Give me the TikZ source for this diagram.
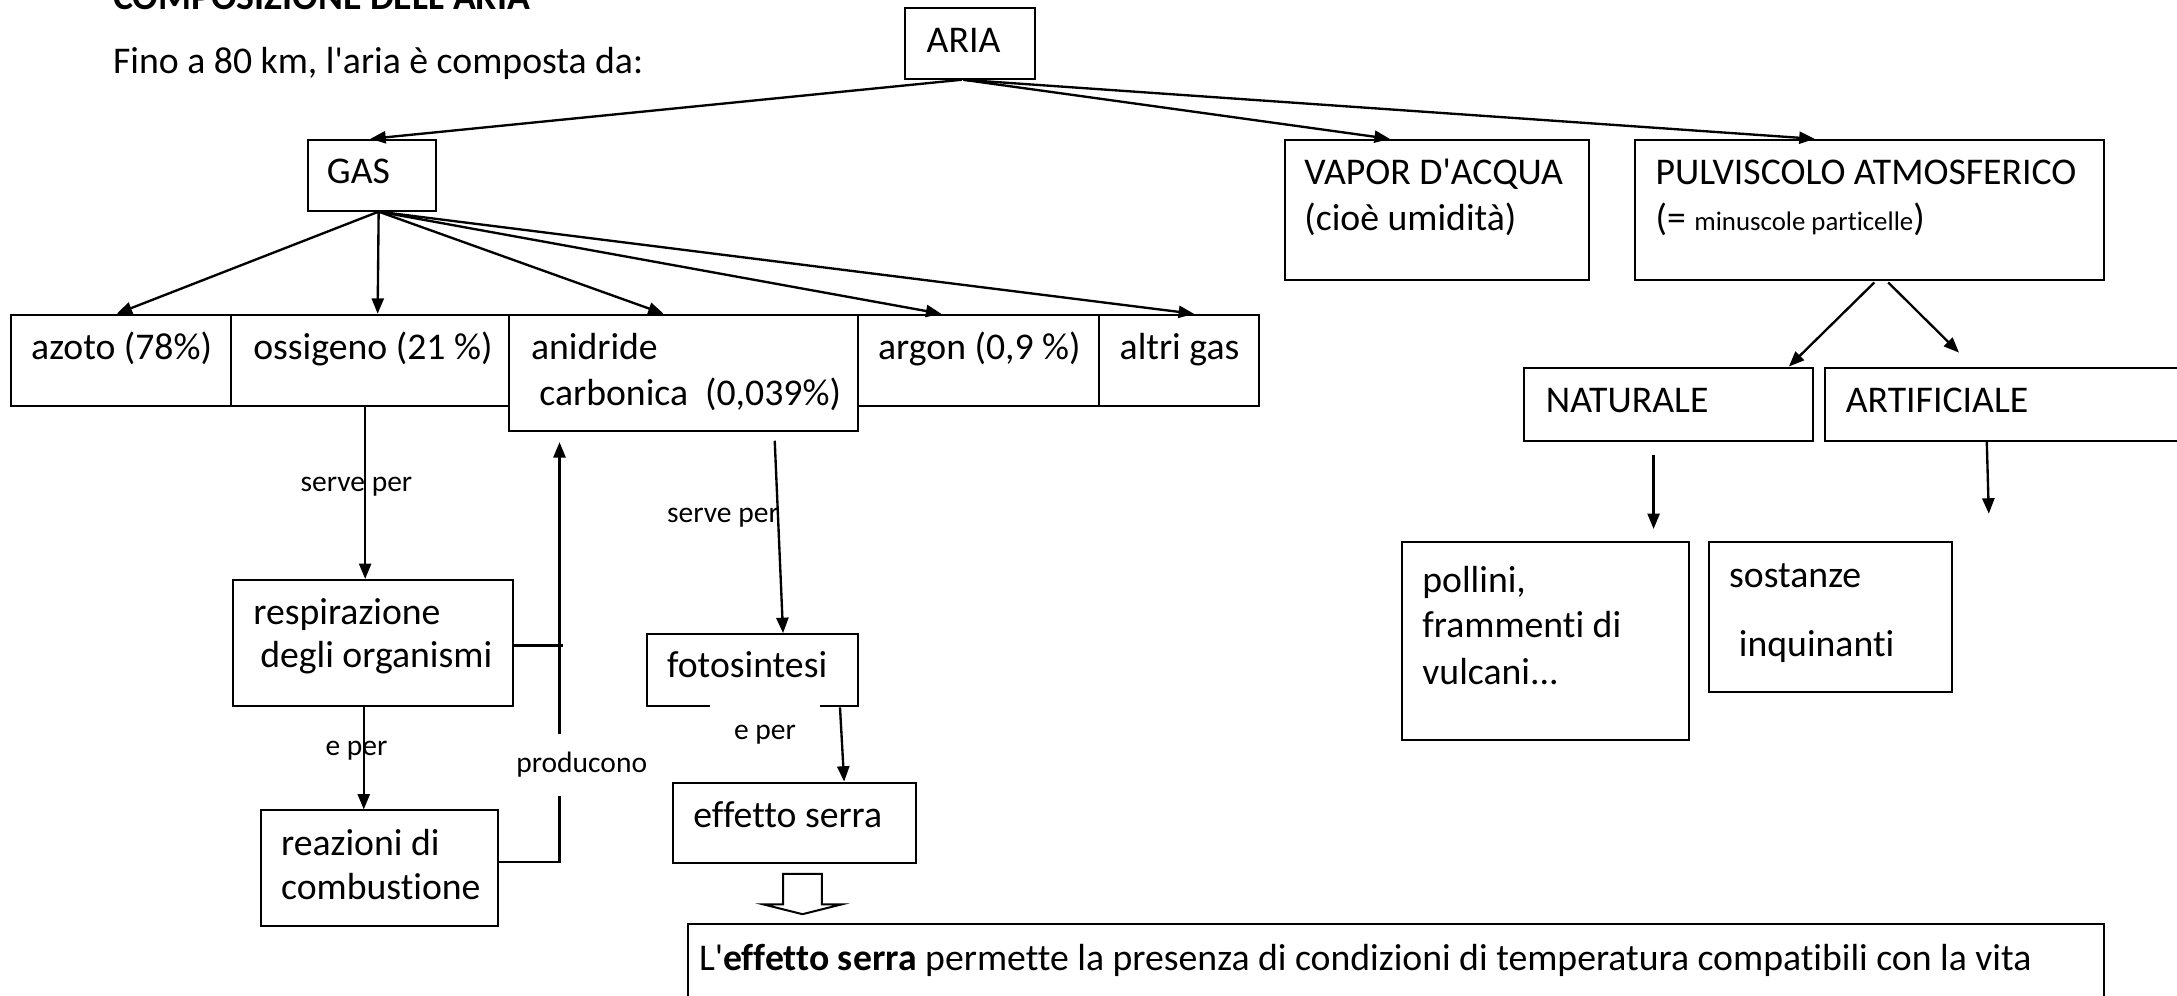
\documentclass[tikz,border=0pt]{standalone}
\usepackage{fontspec}
\setmainfont{Carlito}[Ligatures={NoCommon}]
\usetikzlibrary{arrows.meta,calc}
\newdimen\pu \pu=0.414pt
\newcommand\sq{\textquotesingle}
\newcommand\mybox[5]{\node[bx,minimum width={(#4-#2)*\pu},minimum height={(#5-#3)*\pu}] (#1) at (#2,#3) {};}
\begin{document}
\begin{tikzpicture}[x=\pu,y=-\pu,
  bx/.style={draw,line width=0.6pt,inner sep=0pt,anchor=north west},
  tx/.style={anchor=base west,inner sep=0pt,font=\fontsize{11.25}{13}\selectfont},
  lb/.style={anchor=base west,inner sep=0pt,font=\fontsize{8.8}{10}\selectfont},
  wlb/.style={fill=white,inner sep=0pt,font=\fontsize{8.8}{10}\selectfont},
  arr/.style={line width=0.7pt,-{Triangle[length=4.6pt,width=3.6pt]}},
  ln/.style={line width=0.7pt}]
\clip (0,0) rectangle (1568,717);
% boxes
\mybox{aria}{651}{5}{745}{56}
\mybox{gas}{221}{100}{313}{151}
\mybox{vapor}{925}{100}{1144}{201}
\mybox{pulv}{1177}{100}{1515}{201}
\mybox{azoto}{7}{226}{166}{292}
\mybox{ossigeno}{166}{226}{366}{292}
\mybox{anidride}{366}{226}{617}{310}
\mybox{argon}{617}{226}{791}{292}
\mybox{altri}{791}{226}{906}{292}
\mybox{resp}{167}{417}{369}{508}
\mybox{reaz}{187}{583}{358}{666}
\mybox{foto}{465}{456}{617}{508}
\mybox{effetto}{484}{563}{659}{621}
\mybox{bottom}{495}{665}{1515}{740}
\mybox{naturale}{1097}{264}{1305}{317}
\mybox{artificiale}{1314}{264}{1590}{317}
\mybox{pollini}{1009}{390}{1216}{532}
\mybox{sostanze}{1230}{390}{1405}{498}
% texts
\node[tx,font=\fontsize{11.25}{13}\selectfont\bfseries] (title) at (81,7) {COMPOSIZIONE DELL\sq ARIA};
\node[tx] (fino) at (81,53) {Fino a 80 km, l\sq aria è composta da:};
\node[tx] (aria-t) at (667,38) {ARIA};
\node[tx] (gas-t) at (235,132) {GAS};
\node[tx] (vapor-t1) at (939,133) {VAPOR D\sq ACQUA};
\node[tx] (vapor-t2) at (939,166) {(cioè umidità)};
\node[tx] (pulv-t1) at (1192,133) {PULVISCOLO ATMOSFERICO};
\node[tx] (pulv-t2) at (1192,166) {(= {\fontsize{8}{9.6}\selectfont minuscole particelle})};
\node[tx] (azoto-t) at (22,259) {azoto (78\%)};
\node[tx] (ossigeno-t) at (182,259) {ossigeno (21 \%)};
\node[tx] (anidride-t1) at (382,259) {anidride};
\node[tx] (anidride-t2) at (388,292) {carbonica\ \ (0,039\%)};
\node[tx] (argon-t) at (632,259) {argon (0,9 \%)};
\node[tx] (altri-t) at (806,259) {altri gas};
\node[tx] (resp-t1) at (182,450) {respirazione};
\node[tx] (resp-t2) at (187,481) {degli organismi};
\node[tx] (reaz-t1) at (202,616) {reazioni di};
\node[tx] (reaz-t2) at (202,648) {combustione};
\node[tx] (foto-t) at (480,488) {fotosintesi};
\node[tx] (effetto-t) at (499,596) {effetto serra};
\node[tx] (bottom-t) at (503,699) {L\sq\textbf{effetto serra} permette la presenza di condizioni di temperatura compatibili con la vita};
\node[tx] (naturale-t) at (1113,297) {NATURALE};
\node[tx] (artificiale-t) at (1329,297) {ARTIFICIALE};
\node[tx] (pollini-t1) at (1024,427) {pollini,};
\node[tx] (pollini-t2) at (1024,459) {frammenti di};
\node[tx] (pollini-t3) at (1024,493) {vulcani...};
\node[tx] (sostanze-t1) at (1245,423) {sostanze};
\node[tx] (sostanze-t2) at (1252,473) {inquinanti};
% connectors
\draw[arr] ($(aria.south)+(-6,0)$) -- ($(gas.north)+(-1,0)$);
\draw[arr] ($(aria.south)+(-5,0)$) -- ($(vapor.north west)+(76,0)$);
\draw[arr] ($(aria.south)+(-5,0)$) -- ($(pulv.north west)+(130,0)$);
\draw[arr] ($(gas.south)+(5,0)$) -- ($(azoto.north west)+(77,0)$);
\draw[arr] ($(gas.south)+(5,0)$) -- ($(ossigeno.north west)+(106,0)$);
\draw[arr] ($(gas.south)+(5,0)$) -- ($(anidride.north west)+(112,0)$);
\draw[arr] ($(gas.south)+(5,0)$) -- ($(argon.north west)+(61,0)$);
\draw[arr] ($(gas.south)+(5,0)$) -- ($(altri.north west)+(69,0)$);
\draw[arr] ($(ossigeno.south west)+(97,0)$) -- ($(resp.north west)+(96,0)$);
\draw[arr] ($(resp.south west)+(95,0)$) -- ($(reaz.north west)+(75,0)$);
\draw[arr] ($(reaz.north east)+(0,38)$) -| ($(anidride.south west)+(37,7)$);
\draw[ln] ($(resp.north east)+(0,48)$) -- ++(35,0);
\draw[arr] ($(anidride.south west)+(192,6)$) -- ($(foto.north west)+(99,0)$);
\draw[arr] ($(foto.south west)+(140,0)$) -- ($(effetto.north west)+(124,0)$);
\draw[line width=0.6pt] ($(effetto.south west)+(80,7)$) -- ++(28,0) -- ++(0,22) -- ++(14,0) -- ++(-28,7) -- ++(-28,-7) -- ++(14,0) -- cycle;
\draw[arr] ($(pulv.south west)+(173,1)$) -- ($(naturale.north east)+(-18,0)$);
\draw[arr] ($(pulv.south west)+(183,1)$) -- ($(artificiale.north west)+(97,-10)$);
\draw[arr] ($(naturale.south west)+(94,9)$) -- ($(pollini.north west)+(182,-9)$);
\draw[arr] ($(artificiale.south west)+(117,0)$) -- ($(sostanze.north east)+(26,-20)$);
% labels
\node[lb] (serve1) at (216,354) {serve per};
\node[lb] (eper1) at (234,544) {e per};
\node[wlb,minimum width={94*\pu},minimum height={45*\pu}] (producono) at (419,551) {producono};
\node[lb] (serve2) at (480,376) {serve per};
\node[wlb,minimum width={79*\pu},minimum height={42*\pu}] (eper2) at (551,529) {e per};
\end{tikzpicture}
\end{document}
